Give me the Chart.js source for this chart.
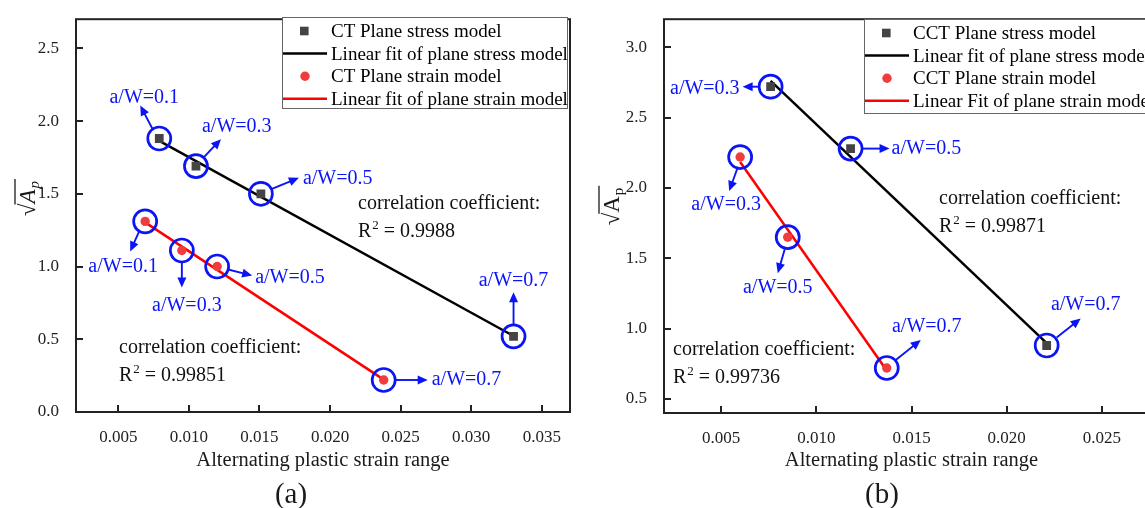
<!DOCTYPE html>
<html>
<head>
<meta charset="utf-8">
<script src="https://cdn.jsdelivr.net/npm/chart.js@4.4.0/dist/chart.umd.min.js"></script>
<style>
  html, body { margin: 0; padding: 0; background: #fff; overflow: hidden; }
  #wrap { position: relative; width: 1145px; height: 508px; overflow: hidden; }
  canvas { position: absolute; top: 0; }
  #chartA { left: 0; }
  #chartB { left: 580px; }
</style>
</head>
<body>
<div id="wrap">
  <canvas id="chartA" width="580" height="508"></canvas>
  <canvas id="chartB" width="600" height="508"></canvas>
</div>
<script>
// CT specimens
const ctStressX = [0.0079, 0.0105, 0.0151, 0.0330];
const ctStressY = [1.88, 1.69, 1.50, 0.52];
const ctStrainX = [0.0069, 0.0095, 0.0120, 0.0238];
const ctStrainY = [1.31, 1.11, 1.00, 0.22];
const ctRatios = ["a/W=0.1", "a/W=0.3", "a/W=0.5", "a/W=0.7"];
const ctStressR2 = "0.9988";
const ctStrainR2 = "0.99851";
const ctXTicks = [0.005, 0.010, 0.015, 0.020, 0.025, 0.030, 0.035];
const ctYTicks = [0.0, 0.5, 1.0, 1.5, 2.0, 2.5];

// CCT specimens
const cctStressX = [0.0076, 0.0118, 0.0221];
const cctStressY = [2.72, 2.28, 0.88];
const cctStrainX = [0.0060, 0.0085, 0.0137];
const cctStrainY = [2.22, 1.65, 0.72];
const cctRatios = ["a/W=0.3", "a/W=0.5", "a/W=0.7"];
const cctStressR2 = "0.99871";
const cctStrainR2 = "0.99736";
const cctXTicks = [0.005, 0.010, 0.015, 0.020, 0.025];
const cctYTicks = [0.5, 1.0, 1.5, 2.0, 2.5, 3.0];

const SERIF = '"Liberation Serif", "Times New Roman", serif';
const BLUE = '#0a14f5';
const INK = '#1a1a1a';

function toPoints(xs, ys) {
  return xs.map((x, i) => ({ x: x, y: ys[i] }));
}

// least squares line, drawn across the range of the measured points
function linearFit(xs, ys) {
  const n = xs.length;
  const mx = xs.reduce((a, b) => a + b, 0) / n;
  const my = ys.reduce((a, b) => a + b, 0) / n;
  let sxy = 0, sxx = 0;
  for (let i = 0; i < n; i++) {
    sxy += (xs[i] - mx) * (ys[i] - my);
    sxx += (xs[i] - mx) * (xs[i] - mx);
  }
  const k = sxy / sxx;
  const b = my - k * mx;
  const x0 = Math.min(...xs), x1 = Math.max(...xs);
  return [{ x: x0, y: k * x0 + b }, { x: x1, y: k * x1 + b }];
}

function buildDatasets(names, stressX, stressY, strainX, strainY) {
  return [
    { label: names[0], data: toPoints(stressX, stressY), pointStyle: 'rect', pointRadius: 6.2,
      backgroundColor: '#444', borderWidth: 0, showLine: false, order: 1 },
    { label: names[1], data: linearFit(stressX, stressY), showLine: true, pointRadius: 0,
      borderColor: '#000', borderWidth: 2.5, order: 2 },
    { label: names[2], data: toPoints(strainX, strainY), pointStyle: 'circle', pointRadius: 4.7,
      backgroundColor: '#ef3d3d', borderWidth: 0, showLine: false, order: 1 },
    { label: names[3], data: linearFit(strainX, strainY), showLine: true, pointRadius: 0,
      borderColor: '#ff0000', borderWidth: 2.5, order: 2 }
  ];
}

function drawArrow(ctx, x1, y1, x2, y2) {
  const ang = Math.atan2(y2 - y1, x2 - x1);
  const head = 10, half = 4.5;
  ctx.beginPath();
  ctx.moveTo(x1, y1);
  ctx.lineTo(x2 - Math.cos(ang) * head * 0.8, y2 - Math.sin(ang) * head * 0.8);
  ctx.stroke();
  ctx.beginPath();
  ctx.moveTo(x2, y2);
  ctx.lineTo(x2 - Math.cos(ang) * head - Math.sin(ang) * half, y2 - Math.sin(ang) * head + Math.cos(ang) * half);
  ctx.lineTo(x2 - Math.cos(ang) * head + Math.sin(ang) * half, y2 - Math.sin(ang) * head - Math.cos(ang) * half);
  ctx.closePath();
  ctx.fill();
}

// vertical √A_p title with the bar over A and p
function drawRootTitle(ctx, cx, cy, italic) {
  ctx.save();
  ctx.translate(cx, cy);
  ctx.rotate(-Math.PI / 2);
  const big = '23px ' + SERIF;
  const bigA = (italic ? 'italic ' : '') + big;
  const sub = (italic ? 'italic ' : '') + '15px ' + SERIF;
  ctx.font = big; const wR = ctx.measureText('√').width;
  ctx.font = bigA; const wA = ctx.measureText('A').width;
  ctx.font = sub; const wP = ctx.measureText('p').width;
  const total = wR + wA + wP + 2;
  let x = -total / 2;
  const base = 6;
  ctx.fillStyle = INK;
  ctx.strokeStyle = INK;
  ctx.textAlign = 'left';
  ctx.textBaseline = 'alphabetic';
  ctx.font = big; ctx.fillText('√', x, base); x += wR;
  const barStart = x - 1;
  ctx.font = bigA; ctx.fillText('A', x, base); x += wA;
  ctx.font = sub; ctx.fillText('p', x + 1, base + 4); x += wP + 2;
  ctx.lineWidth = 1.3;
  ctx.beginPath();
  ctx.moveTo(barStart, base - 20);
  ctx.lineTo(x + 1, base - 20);
  ctx.stroke();
  ctx.restore();
}

function drawR2(ctx, x, base, value) {
  ctx.font = '20px ' + SERIF;
  ctx.textAlign = 'left';
  ctx.textBaseline = 'alphabetic';
  ctx.fillText('correlation coefficient:', x, base);
  const b2 = base + 28;
  ctx.fillText('R', x, b2);
  const wR = ctx.measureText('R').width;
  ctx.font = '13px ' + SERIF;
  ctx.fillText('2', x + wR + 1, b2 - 8);
  const w2 = ctx.measureText('2').width;
  ctx.font = '20px ' + SERIF;
  ctx.fillText(' = ' + value, x + wR + w2 + 1, b2);
}

const panelPlugin = {
  id: 'panel',
  afterDatasetsDraw(chart, args, o) {
    const ctx = chart.ctx;
    ctx.save();
    // ring, arrow and a/W label on each measured point
    o.marks.forEach(m => {
      const meta = chart.getDatasetMeta(m.dataset);
      m.items.forEach((it, j) => {
        const el = meta.data[j];
        const px = el.x, py = el.y;
        ctx.strokeStyle = BLUE;
        ctx.fillStyle = BLUE;
        ctx.lineWidth = 2.7;
        ctx.beginPath();
        ctx.arc(px, py, 11.5, 0, Math.PI * 2);
        ctx.stroke();
        ctx.lineWidth = 1.9;
        drawArrow(ctx, px + it.s[0], py + it.s[1], px + it.t[0], py + it.t[1]);
        ctx.font = '20px ' + SERIF;
        ctx.textAlign = it.align;
        ctx.textBaseline = 'middle';
        ctx.fillText(m.labels[j], px + it.l[0], py + it.l[1]);
      });
    });
    ctx.restore();
  },
  afterDraw(chart, args, o) {
    const ctx = chart.ctx;
    const a = chart.chartArea;
    const xs = chart.scales.x, ys = chart.scales.y;
    ctx.save();
    // inward ticks and frame
    ctx.strokeStyle = '#222';
    ctx.lineWidth = 2;
    ctx.beginPath();
    xs.ticks.forEach(t => {
      const p = Math.round(xs.getPixelForValue(t.value));
      ctx.moveTo(p, a.bottom);
      ctx.lineTo(p, a.bottom - 7);
    });
    ys.ticks.forEach(t => {
      const p = Math.round(ys.getPixelForValue(t.value));
      ctx.moveTo(a.left, p);
      ctx.lineTo(a.left + 7, p);
    });
    ctx.stroke();
    ctx.strokeRect(a.left, a.top, a.right - a.left, a.bottom - a.top);

    // legend box
    const L = o.legend;
    ctx.fillStyle = '#fff';
    ctx.fillRect(L.left, L.top, L.width, L.height);
    ctx.strokeStyle = '#666';
    ctx.lineWidth = 1;
    ctx.strokeRect(L.left + 0.5, L.top + 0.5, L.width, L.height);
    chart.data.datasets.forEach((ds, i) => {
      const cy = L.top + 14 + i * 22.6;
      if (ds.showLine) {
        ctx.strokeStyle = ds.borderColor;
        ctx.lineWidth = 2.5;
        ctx.beginPath();
        ctx.moveTo(L.left + 1, cy);
        ctx.lineTo(L.left + 45, cy);
        ctx.stroke();
      } else if (ds.pointStyle === 'rect') {
        ctx.fillStyle = ds.backgroundColor;
        ctx.fillRect(L.left + 18, cy - 4.3, 8.6, 8.6);
      } else {
        ctx.fillStyle = ds.backgroundColor;
        ctx.beginPath();
        ctx.arc(L.left + 23, cy, 4.7, 0, Math.PI * 2);
        ctx.fill();
      }
      ctx.fillStyle = '#000';
      ctx.font = '19px ' + SERIF;
      ctx.textAlign = 'left';
      ctx.textBaseline = 'middle';
      ctx.fillText(ds.label, L.left + 49, cy + 1);
    });

    // correlation notes
    ctx.fillStyle = '#111';
    o.notes.forEach(n => drawR2(ctx, n.x, n.y, n.value));

    // axis titles and caption
    const mid = (a.left + a.right) / 2;
    ctx.fillStyle = INK;
    ctx.font = '20.5px ' + SERIF;
    ctx.textAlign = 'center';
    ctx.textBaseline = 'middle';
    ctx.fillText('Alternating plastic strain range', mid, 461);
    ctx.font = '29px ' + SERIF;
    ctx.textBaseline = 'alphabetic';
    ctx.fillText(o.caption, o.captionX, 503);
    drawRootTitle(ctx, a.left - o.titleGap, o.titleY, o.italicTitle);
    ctx.restore();
  }
};

function scaleOptions(min, max, tickValues, digits, fixedSize, horizontal, pad) {
  return {
    type: 'linear',
    min: min,
    max: max,
    afterBuildTicks: s => { s.ticks = tickValues.map(v => ({ value: v })); },
    afterFit: s => { if (horizontal) s.height = fixedSize; else s.width = fixedSize; },
    grid: { display: false },
    border: { display: false },
    ticks: {
      autoSkip: false,
      maxRotation: 0,
      padding: pad,
      color: '#222',
      font: { family: SERIF, size: 17 },
      callback: v => Number(v).toFixed(digits)
    }
  };
}

function makeChart(id, datasets, xRange, xTicks, yRange, yTicks, yWidth, xHeight, padding, panel) {
  return new Chart(document.getElementById(id), {
    type: 'scatter',
    data: { datasets: datasets },
    options: {
      responsive: false,
      animation: false,
      layout: { padding: padding, autoPadding: false },
      plugins: {
        legend: { display: false },
        tooltip: { enabled: false },
        panel: panel
      },
      scales: {
        x: scaleOptions(xRange[0], xRange[1], xTicks, 3, xHeight, true, 7),
        y: scaleOptions(yRange[0], yRange[1], yTicks, 1, yWidth, false, 9)
      }
    },
    plugins: [panelPlugin]
  });
}

makeChart('chartA',
  buildDatasets(["CT Plane stress model", "Linear fit of plane stress model",
                 "CT Plane strain model", "Linear fit of plane strain model"],
                ctStressX, ctStressY, ctStrainX, ctStrainY),
  [0.002, 0.037], ctXTicks, [0, 2.7], ctYTicks, 76, 96,
  { left: 0, right: 10, top: 14, bottom: 0 },
  {
    caption: '(a)', captionX: 291, italicTitle: true, titleY: 198, titleGap: 47,
    legend: { left: 282, top: 17, width: 285, height: 91 },
    notes: [
      { x: 358, y: 209, value: ctStressR2 },
      { x: 119, y: 353, value: ctStrainR2 }
    ],
    marks: [
      { dataset: 0, labels: ctRatios, items: [
        { s: [-7, -10], t: [-19, -33], l: [-15, -41], align: 'center' },
        { s: [8, -9], t: [25, -27], l: [6, -39], align: 'left' },
        { s: [11, -5], t: [38, -16], l: [42, -15], align: 'left' },
        { s: [0, -12], t: [0, -44], l: [0, -56], align: 'center' }
      ] },
      { dataset: 2, labels: ctRatios, items: [
        { s: [-6, 10], t: [-15, 30], l: [-22, 45], align: 'center' },
        { s: [0, 12], t: [0, 37], l: [5, 55], align: 'center' },
        { s: [11, 3], t: [35, 9], l: [38, 11], align: 'left' },
        { s: [12, 0], t: [44, 0], l: [48, 0], align: 'left' }
      ] }
    ]
  });

makeChart('chartB',
  buildDatasets(["CCT Plane stress model", "Linear fit of plane stress model",
                 "CCT Plane strain model", "Linear Fit of plane strain model"],
                cctStressX, cctStressY, cctStrainX, cctStrainY),
  [0.002, 0.028], cctXTicks, [0.4, 3.2], cctYTicks, 84, 95,
  { left: 0, right: 21, top: 15, bottom: 0 },
  {
    caption: '(b)', captionX: 302, italicTitle: false, titleY: 206, titleGap: 51,
    legend: { left: 284, top: 19, width: 290, height: 94 },
    notes: [
      { x: 359, y: 204, value: cctStressR2 },
      { x: 93, y: 355, value: cctStrainR2 }
    ],
    marks: [
      { dataset: 0, labels: cctRatios, items: [
        { s: [-12, 0], t: [-28, 0], l: [-31, 2], align: 'right' },
        { s: [12, 0], t: [39, 0], l: [41, 0], align: 'left' },
        { s: [10, -8], t: [34, -27], l: [39, -41], align: 'center' }
      ] },
      { dataset: 2, labels: cctRatios, items: [
        { s: [-3, 12], t: [-11, 34], l: [-14, 48], align: 'center' },
        { s: [-3, 12], t: [-10, 36], l: [-10, 51], align: 'center' },
        { s: [9, -8], t: [34, -28], l: [40, -41], align: 'center' }
      ] }
    ]
  });
</script>
</body>
</html>
